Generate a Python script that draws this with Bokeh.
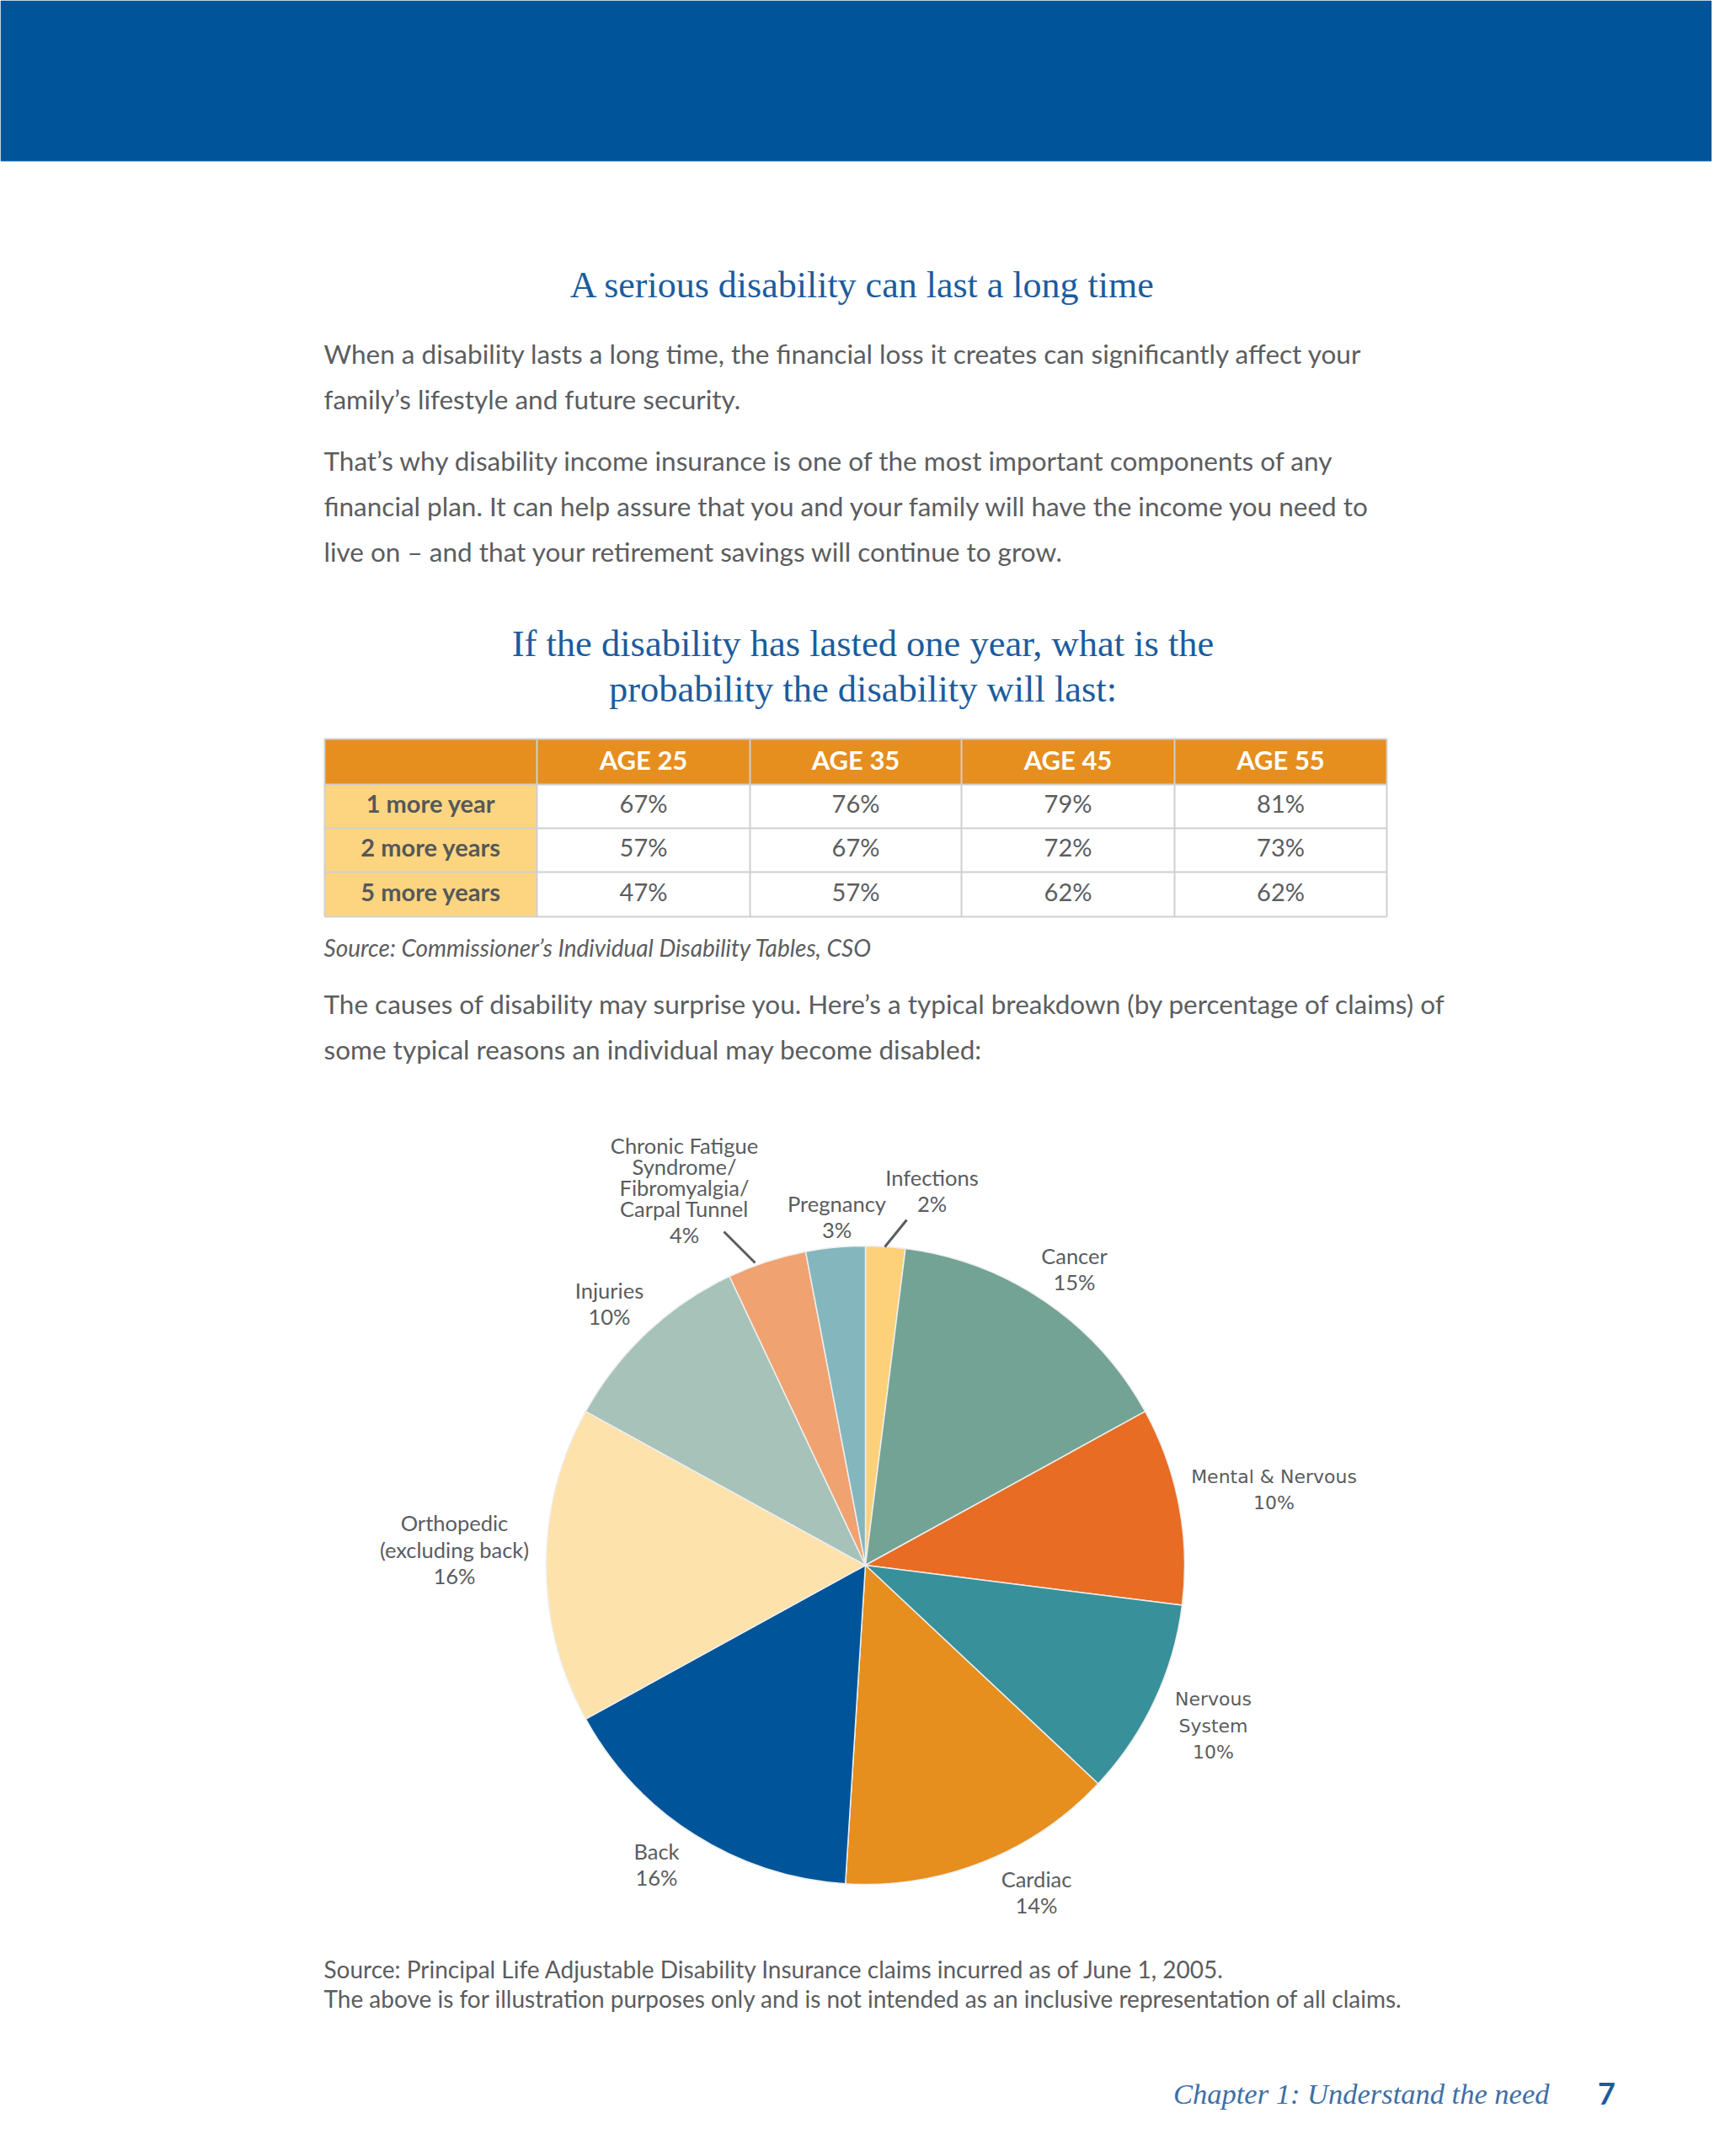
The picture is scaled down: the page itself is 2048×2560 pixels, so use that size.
import math
from bokeh.plotting import figure
from bokeh.models import Range1d
from bokeh.core.properties import value
from bokeh.embed import file_html
from bokeh.resources import INLINE

# ---------------- data ----------------
title = "A serious disability can last a long time"
para1 = ["When a disability lasts a long time, the financial loss it creates can significantly affect your",
         "family\u2019s lifestyle and future security."]
para2 = ["That\u2019s why disability income insurance is one of the most important components of any",
         "financial plan. It can help assure that you and your family will have the income you need to",
         "live on \u2013 and that your retirement savings will continue to grow."]
table_title = ["If the disability has lasted one year, what is the",
               "probability the disability will last:"]
ages = ["AGE 25", "AGE 35", "AGE 45", "AGE 55"]
durations = ["1 more year", "2 more years", "5 more years"]
prob_age25 = [67, 57, 47]
prob_age35 = [76, 67, 57]
prob_age45 = [79, 72, 62]
prob_age55 = [81, 73, 62]
table_source = "Source: Commissioner\u2019s Individual Disability Tables, CSO"
para3 = ["The causes of disability may surprise you. Here\u2019s a typical breakdown (by percentage of claims) of",
         "some typical reasons an individual may become disabled:"]
cause_labels = ["Infections", "Cancer", "Mental & Nervous", "Nervous\nSystem", "Cardiac", "Back",
                "Orthopedic\n(excluding back)", "Injuries",
                "Chronic Fatigue\nSyndrome/\nFibromyalgia/\nCarpal Tunnel", "Pregnancy"]
cause_pct = [2, 15, 10, 10, 14, 16, 16, 10, 4, 3]
cause_colors = ["#FDD07A", "#73A394", "#E86C24", "#38909A", "#E68E1E", "#00559A",
                "#FDE2AC", "#A7C3B9", "#F0A270", "#84B6BD"]
footnotes = ["Source: Principal Life Adjustable Disability Insurance claims incurred as of June 1, 2005.",
             "The above is for illustration purposes only and is not intended as an inclusive representation of all claims."]
footer_text = "Chapter 1: Understand the need"
page_number = "7"

# ---------------- layout ----------------
W, H = 2032, 2544
PAGE_H = 2560


def Y(py):
    return PAGE_H - py


p = figure(width=W, height=H, output_backend="svg", toolbar_location=None,
           x_range=Range1d(0, W), y_range=Range1d(PAGE_H - H, PAGE_H),
           x_axis_location=None, y_axis_location=None, min_border=0)
p.grid.visible = False
p.outline_line_color = None
p.background_fill_color = "white"
p.border_fill_color = "white"

SANS = "Lato"
SERIF = "Liberation Serif"
GRAY = "#5b5d5f"
BLUE = "#1B5C9E"

# header band
p.quad(left=[0], right=[2048], top=[Y(0)], bottom=[Y(191)], fill_color="#00549A", line_color=None)


def txt(x, y, s, size, color=GRAY, font=SANS, align="left", style="normal", baseline="middle"):
    p.text(x=[x], y=[Y(y)], text=[s], text_font=value(font), text_font_size=size,
           text_color=color, text_align=align, text_baseline=baseline, text_font_style=style)


LEFT = 384
BODY = "31.5px"
txt(1024, 338, title, "44px", BLUE, SERIF, "center")
for i, line in enumerate(para1):
    txt(LEFT, 419 + 54 * i, line, BODY)
for i, line in enumerate(para2):
    txt(LEFT, 546 + 54 * i, line, BODY)
for i, line in enumerate(table_title):
    txt(1024, 763 + 54 * i, line, "44.5px", BLUE, SERIF, "center")

# table
col_edges = [385, 637, 890, 1141, 1394, 1646]
row_edges = [877, 931, 983, 1035, 1088]
values = [prob_age25, prob_age35, prob_age45, prob_age55]
p.quad(left=[col_edges[0]], right=[col_edges[-1]], top=[Y(row_edges[0])], bottom=[Y(row_edges[1])],
       fill_color="#E68E1E", line_color=None)
p.quad(left=[col_edges[0]] * 3, right=[col_edges[1]] * 3,
       top=[Y(row_edges[r]) for r in range(1, 4)], bottom=[Y(row_edges[r + 1]) for r in range(1, 4)],
       fill_color="#FDD580", line_color=None)
gx0, gx1, gy0, gy1 = [], [], [], []
for xe in col_edges:
    gx0.append(xe); gx1.append(xe); gy0.append(Y(row_edges[0])); gy1.append(Y(row_edges[-1]))
for ye in row_edges:
    gx0.append(col_edges[0]); gx1.append(col_edges[-1]); gy0.append(Y(ye)); gy1.append(Y(ye))
p.segment(x0=gx0, y0=gy0, x1=gx1, y1=gy1, line_color="#cfcfcf", line_width=2)

TSHIFT = -4
for c, age in enumerate(ages):
    cx = (col_edges[c + 1] + col_edges[c + 2]) / 2
    txt(cx, (row_edges[0] + row_edges[1]) / 2 + TSHIFT + 1, age, "31px", "white", SANS, "center", "bold")
for r, d in enumerate(durations):
    cy = (row_edges[r + 1] + row_edges[r + 2]) / 2 + TSHIFT
    txt((col_edges[0] + col_edges[1]) / 2, cy, d, "29px", "#55585a", SANS, "center", "bold")
    for c in range(4):
        cx = (col_edges[c + 1] + col_edges[c + 2]) / 2
        txt(cx, cy, f"{values[c][r]}%", "29px", GRAY, SANS, "center")

txt(LEFT, 1124, table_source, "28px", GRAY, SANS, "left", "italic")
for i, line in enumerate(para3):
    txt(LEFT, 1191 + 54 * i, line, BODY)

# pie
CX, CY, R = 1027, 1858, 379
total = sum(cause_pct)
starts, ends = [], []
acc = 0
for v in cause_pct:
    starts.append(math.pi / 2 - 2 * math.pi * acc / total)
    acc += v
    ends.append(math.pi / 2 - 2 * math.pi * acc / total)
p.wedge(x=[CX] * len(cause_pct), y=[Y(CY)] * len(cause_pct), radius=R,
        start_angle=starts, end_angle=ends, direction="clock",
        fill_color=cause_colors, line_color="#eeeeee", line_width=1.5)

label_pos = [(1106, 1397, 31), (1275, 1490, 31), (1512, 1753, 31), (1440, 2017, 32),
             (1230, 2230, 32), (779, 2197, 32), (539, 1807, 32), (723, 1531, 31),
             (812, 1359, 25), (993, 1428, 31)]
for lab, v, (lx, ly, gap) in zip(cause_labels, cause_pct, label_pos):
    lines = lab.split("\n")
    font = "DejaVu Sans" if lab in ("Mental & Nervous", "Nervous\nSystem") else SANS
    size = "22px" if font == "DejaVu Sans" else "25.5px"
    for i, ln in enumerate(lines):
        txt(lx, ly + gap * i, ln, size, "#5a5c5e", font, "center")
    txt(lx, ly + gap * (len(lines) - 1) + 31, f"{v}%", size, "#5a5c5e", font, "center")

p.segment(x0=[859, 1076], y0=[Y(1462), Y(1448)], x1=[896, 1050], y1=[Y(1499), Y(1480)],
          line_color="#5a5c5e", line_width=3)

for i, line in enumerate(footnotes):
    txt(LEFT, 2337 + 35 * i, line, "28px")

txt(1839, 2485, footer_text, "34.5px", "#3E6EA6", SERIF, "right", "italic")
txt(1907, 2485, page_number, "36px", "#1B5C9E", SANS, "center", "bold")

open("out.html", "w").write(file_html(p, INLINE))
